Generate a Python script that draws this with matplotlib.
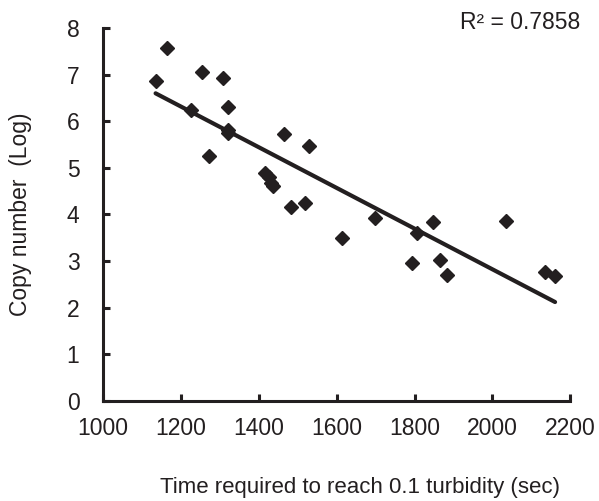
import numpy as np
import matplotlib
matplotlib.use("Agg")
import matplotlib.pyplot as plt

plt.rcParams['font.family'] = ['Liberation Sans', 'DejaVu Sans']

time_sec = [1135, 1165, 1225, 1255, 1272, 1308, 1321, 1322, 1322,
            1416, 1427, 1432, 1436, 1466, 1483, 1519, 1528,
            1614, 1699, 1794, 1806, 1848, 1866, 1884, 2034, 2135, 2161]
copy_log = [6.87, 7.57, 6.24, 7.05, 5.26, 6.92, 6.30, 5.81, 5.74,
            4.89, 4.81, 4.67, 4.60, 5.73, 4.16, 4.24, 5.46,
            3.49, 3.93, 2.95, 3.60, 3.83, 3.03, 2.70, 3.86, 2.77, 2.68]
x_ticks = [1000, 1200, 1400, 1600, 1800, 2000, 2200]
y_ticks = [0, 1, 2, 3, 4, 5, 6, 7, 8]
r2_text = "R² = 0.7858"

col = '#231f20'
fs = 16.5
fig = plt.figure(figsize=(5.99, 5.01), dpi=100)
ax = fig.add_axes([0.172, 0.2, 0.78, 0.744])

x = np.array(time_sec)
y = np.array(copy_log)
m, b = np.polyfit(x, y, 1)
xl = np.array([x.min(), x.max()])
ax.plot(xl, m * xl + b, color=col, lw=3.0, solid_capstyle='round', zorder=2)
ax.plot(x, y, linestyle='none', marker='D', markersize=7, color=col, zorder=3)

ax.set_xlim(1000, 2200)
ax.set_ylim(0, 8)
ax.set_xticks(x_ticks)
ax.set_yticks(y_ticks)
for s in ['top', 'right']:
    ax.spines[s].set_visible(False)
for s in ['left', 'bottom']:
    ax.spines[s].set_linewidth(2.2)
    ax.spines[s].set_color(col)
ax.tick_params(direction='in', length=5, width=2.2, color=col,
               labelsize=fs, labelcolor=col)
ax.tick_params(axis='x', pad=12)
ax.tick_params(axis='y', pad=17)
ax.set_xlabel("Time required to reach 0.1 turbidity (sec)", fontsize=16, color=col)
ax.xaxis.set_label_coords(0.55, -0.205)
ax.set_ylabel("Copy number  (Log)", fontsize=fs, color=col)
ax.yaxis.set_label_coords(-0.152, 0.5)
ax.text(1.021, 1.015, r2_text, transform=ax.transAxes, ha='right', va='center',
        fontsize=fs, color=col)

fig.savefig("out.png", dpi=100)
